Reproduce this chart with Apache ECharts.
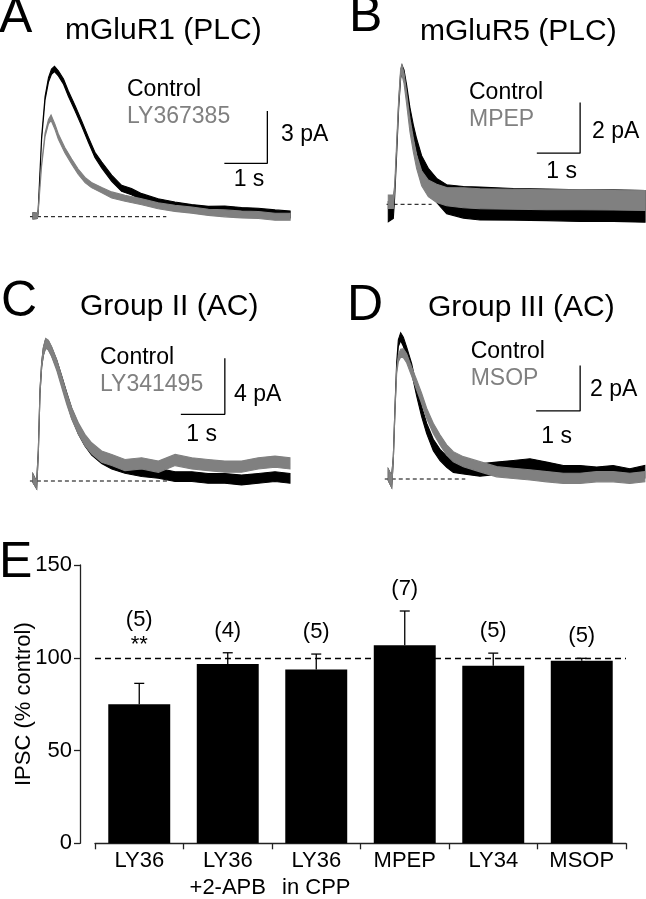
<!DOCTYPE html>
<html><head><meta charset="utf-8">
<script src="https://cdn.jsdelivr.net/npm/echarts@6/dist/echarts.min.js"></script>
<style>html,body{margin:0;padding:0;background:#fff}#c{width:646px;height:899px}</style>
</head><body><div id="c"></div>
<script>
// ---------- Panel A: mGluR1 (PLC) ----------
const aT_ctl = [0, 0.10, 0.12, 0.20, 0.28, 0.36, 0.43, 0.50, 0.59, 0.71, 0.82, 0.98, 1.13, 1.29, 1.44, 1.60, 1.83, 2.06, 2.29, 2.53, 2.91, 3.30, 3.69, 4.08, 4.46, 4.85, 5.24, 5.63, 5.98];
const aI_ctl = [0.05, 0.05, 0.3, 4.5, 6.8, 7.86, 8.33, 8.49, 8.24, 7.76, 7.09, 6.23, 5.37, 4.41, 3.55, 2.97, 2.21, 1.63, 1.44, 1.15, 0.86, 0.67, 0.52, 0.42, 0.44, 0.33, 0.29, 0.19, 0.13];
const aN_ctl = [0.35, 0.3, 0.15, 0.15, 0.2, 0.25, 0.3, 0.3, 0.3, 0.3, 0.3, 0.3, 0.3, 0.3, 0.3, 0.35, 0.35, 0.35, 0.35, 0.35, 0.35, 0.35, 0.35, 0.35, 0.35, 0.4, 0.4, 0.4, 0.4];
const aT_ly = [0, 0.10, 0.12, 0.20, 0.28, 0.36, 0.42, 0.51, 0.59, 0.74, 0.90, 1.05, 1.21, 1.36, 1.60, 1.83, 2.14, 2.53, 2.91, 3.30, 3.69, 4.08, 4.46, 4.85, 5.24, 5.63, 5.98];
const aI_ly = [0.05, 0.05, 0.3, 2.97, 4.7, 5.46, 5.69, 5.17, 4.6, 3.83, 3.16, 2.59, 2.11, 1.82, 1.53, 1.25, 1.06, 0.86, 0.63, 0.48, 0.38, 0.25, 0.19, 0.13, 0.10, 0.0, 0.0];
const aN_ly = [0.35, 0.3, 0.15, 0.15, 0.2, 0.25, 0.3, 0.3, 0.3, 0.3, 0.3, 0.3, 0.3, 0.3, 0.3, 0.35, 0.35, 0.35, 0.35, 0.35, 0.35, 0.35, 0.4, 0.4, 0.4, 0.4, 0.4];
const aScale = [1, 3]; // 1 s, 3 pA

// ---------- Panel B: mGluR5 (PLC) ----------
const bT = [0, 0.116, 0.147, 0.193, 0.24, 0.286, 0.316, 0.363, 0.424, 0.50, 0.578, 0.655, 0.77, 0.924, 1.117, 1.348, 1.733, 2.118, 2.887, 3.66, 4.43, 5.20, 5.93];
const bI_ctl = [-0.29, -0.23, 0.37, 2.08, 3.92, 5.11, 5.37, 5.18, 4.58, 3.66, 2.94, 2.34, 1.62, 1.05, 0.55, 0.2, 0.08, 0.03, 0.0, -0.02, -0.05, -0.05, -0.08];
const bN_ctl = [0.79, 0.66, 0.2, 0.2, 0.2, 0.26, 0.26, 0.26, 0.26, 0.33, 0.4, 0.5, 0.6, 0.75, 0.95, 1.15, 1.25, 1.3, 1.25, 1.25, 1.25, 1.25, 1.25];
const bI_mpep = [0.10, 0.10, 0.63, 2.34, 4.06, 5.24, 5.31, 4.98, 4.19, 3.13, 2.34, 1.68, 1.03, 0.63, 0.43, 0.30, 0.26, 0.22, 0.20, 0.18, 0.18, 0.17, 0.15];
const bN_mpep = [0.53, 0.53, 0.2, 0.2, 0.2, 0.26, 0.4, 0.4, 0.46, 0.53, 0.53, 0.53, 0.59, 0.66, 0.72, 0.72, 0.79, 0.79, 0.79, 0.79, 0.79, 0.79, 0.79];
const bScale = [1, 2];

// ---------- Panel C: Group II (AC) ----------
const cT = [0, 0.083, 0.121, 0.159, 0.197, 0.235, 0.288, 0.348, 0.424, 0.538, 0.652, 0.765, 0.879, 1.03, 1.18, 1.333, 1.56, 1.79, 2.09, 2.47, 2.85, 3.23, 3.61, 3.98, 4.36, 4.74, 5.12, 5.5, 5.84];
const cI_ctl = [0.19, -0.3, 2.09, 6.38, 8.29, 9.24, 9.83, 9.71, 9.24, 8.35, 7.2, 6.0, 4.85, 3.7, 2.85, 2.2, 1.6, 1.2, 0.9, 0.67, 0.55, 0.31, 0.31, 0.19, 0.19, 0.07, 0.19, 0.31, 0.19];
const cN_ctl = [0.6, 0.5, 0.25, 0.25, 0.3, 0.5, 0.6, 0.6, 0.6, 0.6, 0.6, 0.65, 0.7, 0.7, 0.7, 0.7, 0.7, 0.7, 0.7, 0.7, 0.7, 0.7, 0.7, 0.7, 0.7, 0.7, 0.7, 0.7, 0.7];
const cI_ly = [0.19, -0.3, 2.09, 6.38, 8.29, 9.24, 9.83, 9.71, 9.24, 8.29, 7.09, 5.9, 4.83, 3.76, 2.93, 2.33, 1.74, 1.5, 1.14, 1.26, 1.02, 1.5, 1.26, 1.14, 1.02, 1.02, 1.26, 1.38, 1.26];
const cN_ly = [0.6, 0.5, 0.25, 0.25, 0.3, 0.6, 0.7, 0.7, 0.7, 0.75, 0.8, 0.8, 0.8, 0.8, 0.8, 0.8, 0.8, 0.8, 0.8, 0.8, 0.8, 0.8, 0.8, 0.8, 0.8, 0.8, 0.8, 0.8, 0.8];
const cScale = [1, 4];

// ---------- Panel D: Group III (AC) ----------
const dT = [0, 0.077, 0.114, 0.152, 0.19, 0.228, 0.281, 0.342, 0.417, 0.531, 0.645, 0.758, 0.872, 1.023, 1.175, 1.327, 1.478, 1.705, 2.084, 2.463, 2.84, 3.22, 3.6, 3.98, 4.357, 4.736, 5.11, 5.49, 5.83];
const dI_ctl = [0.18, -0.12, 0.91, 3.11, 5.02, 5.98, 6.27, 6.05, 5.61, 4.88, 3.85, 2.97, 2.23, 1.5, 1.06, 0.76, 0.54, 0.47, 0.4, 0.47, 0.54, 0.62, 0.47, 0.32, 0.32, 0.25, 0.32, 0.18, 0.32];
const dN_ctl = [0.5, 0.5, 0.15, 0.15, 0.2, 0.3, 0.35, 0.4, 0.4, 0.4, 0.4, 0.45, 0.45, 0.5, 0.5, 0.5, 0.5, 0.5, 0.55, 0.55, 0.55, 0.55, 0.55, 0.55, 0.55, 0.55, 0.55, 0.55, 0.55];
const dI_msop = [0.18, -0.12, 0.91, 3.11, 4.73, 5.32, 5.54, 5.54, 5.32, 4.73, 4.14, 3.55, 2.89, 2.23, 1.72, 1.28, 0.98, 0.76, 0.54, 0.32, 0.25, 0.18, 0.1, 0.03, 0.03, 0.1, 0.1, 0.03, 0.1];
const dN_msop = [0.5, 0.5, 0.15, 0.15, 0.2, 0.3, 0.35, 0.4, 0.4, 0.4, 0.45, 0.45, 0.45, 0.45, 0.45, 0.45, 0.45, 0.45, 0.45, 0.45, 0.45, 0.45, 0.45, 0.45, 0.45, 0.45, 0.45, 0.45, 0.45];
const dScale = [1, 2];

// ---------- Panel E: summary ----------
const eCategories = ['LY36', 'LY36\n+2-APB', 'LY36\nin CPP', 'MPEP', 'LY34', 'MSOP'];
const eMeans = [75, 96.6, 93.7, 106.8, 95.7, 98.4];
const eSem = [11.2, 6.1, 8.3, 18.4, 6.8, 1.3];
const eN = [5, 4, 5, 7, 5, 5];
const eSig = ['**', '', '', '', '', ''];
const eTicks = [0, 50, 100, 150];
const eRef = 100;

// ---------- layout & styles ----------
const FONT = "'Liberation Sans', Arial, Helvetica, sans-serif";
const GREY = '#808080';
const panels = [
  {x0: 33,    sx: 43,   base: 216.7, sy: 17.4, yMax: 10, dash: [-0.07, 3.1], bar: [5.45, 3.07], scale: aScale},
  {x0: 388.3, sx: 43.3, base: 204.3, sy: 25.3, yMax: 6,  dash: [-0.04, 1.0], bar: [4.43, 2.02], scale: bScale},
  {x0: 33,    sx: 44,   base: 481,   sy: 14,   yMax: 11, dash: [-0.07, 3.1], bar: [4.36, 4.76], scale: cScale},
  {x0: 388.3, sx: 44,   base: 479,   sy: 22.7, yMax: 7,  dash: [-0.08, 1.75], bar: [4.36, 3.0], scale: dScale}
];

const grids = [], xAxes = [], yAxes = [], series = [];
panels.forEach(function (p, gi) {
  grids.push({left: p.x0 - 0.5 * p.sx, width: 7 * p.sx, top: p.base - p.yMax * p.sy, height: (p.yMax + 2) * p.sy, outerBoundsMode: 'none'});
  xAxes.push({type: 'value', gridIndex: gi, min: -0.5, max: 6.5, show: false});
  yAxes.push({type: 'value', gridIndex: gi, min: -2, max: p.yMax, show: false});
  series.push({type: 'line', xAxisIndex: gi, yAxisIndex: gi, data: [[p.dash[0], 0], [p.dash[1], 0]], symbol: 'none', silent: true, z: 1,
    lineStyle: {color: '#000', width: 1, type: [4, 3]}});
  const bx = p.bar[0], by = p.bar[1];
  series.push({type: 'line', xAxisIndex: gi, yAxisIndex: gi, data: [[bx - p.scale[0], by], [bx, by], [bx, by + p.scale[1]]], symbol: 'none', silent: true, z: 5,
    lineStyle: {color: '#000', width: 1.3}});
});

function band(gi, t, mid, noise, color, z) {
  return {
    type: 'custom', xAxisIndex: gi, yAxisIndex: gi, silent: true, z: z, clip: false,
    data: [[t[0], mid[0]]],
    renderItem: function (params, api) {
      const up = [], lo = [];
      for (let k = 0; k < t.length; k++) {
        up.push(api.coord([t[k], mid[k] + noise[k] / 2]));
        lo.push(api.coord([t[k], mid[k] - noise[k] / 2]));
      }
      return {type: 'polygon', shape: {points: up.concat(lo.reverse())}, style: {fill: color, stroke: color, lineWidth: 1.1}};
    }
  };
}
series.push(band(0, aT_ctl, aI_ctl, aN_ctl, '#000', 2));
series.push(band(0, aT_ly, aI_ly, aN_ly, GREY, 3));
series.push(band(1, bT, bI_ctl, bN_ctl, '#000', 2));
series.push(band(1, bT, bI_mpep, bN_mpep, GREY, 3));
series.push(band(2, cT, cI_ctl, cN_ctl, '#000', 2));
series.push(band(2, cT, cI_ly, cN_ly, GREY, 3));
series.push(band(3, dT, dI_ctl, dN_ctl, '#000', 2));
series.push(band(3, dT, dI_msop, dN_msop, GREY, 3));

// Panel E grid
grids.push({left: 95, right: 20, top: 565, bottom: 55.7, outerBoundsMode: 'none'});
xAxes.push({type: 'category', gridIndex: 4, data: eCategories,
  axisLine: {lineStyle: {color: '#222', width: 1.3}},
  axisTick: {show: true, length: 6, lineStyle: {color: '#222', width: 1.3}},
  axisLabel: {interval: 0, color: '#000', fontSize: 22, fontFamily: FONT, lineHeight: 27, margin: 4}});
yAxes.push({type: 'value', gridIndex: 4, min: eTicks[0], max: eTicks[eTicks.length - 1], interval: eTicks[1] - eTicks[0], offset: 15,
  name: 'IPSC (% control)', nameLocation: 'middle', nameGap: 45, nameRotate: 90, nameMoveOverlap: false,
  nameTextStyle: {color: '#000', fontSize: 22, fontFamily: FONT},
  axisLine: {show: true, lineStyle: {color: '#222', width: 1.3}},
  axisTick: {show: true, length: 6, lineStyle: {color: '#222', width: 1.3}},
  axisLabel: {color: '#000', fontSize: 22, fontFamily: FONT, margin: 8},
  splitLine: {show: false}});
series.push({type: 'bar', xAxisIndex: 4, yAxisIndex: 4, data: eMeans, barWidth: '70%', silent: true,
  itemStyle: {color: '#000'},
  markLine: {silent: true, symbol: 'none', label: {show: false},
    lineStyle: {color: '#000', width: 1.3, type: [6, 4]}, data: [{yAxis: eRef}]}});
series.push({type: 'custom', xAxisIndex: 4, yAxisIndex: 4, silent: true, z: 5,
  data: eMeans.map(function (m, i) { return [i, m, eSem[i], eN[i]]; }),
  renderItem: function (params, api) {
    const i = params.dataIndex;
    const p0 = api.coord([api.value(0), api.value(1)]);
    const p1 = api.coord([api.value(0), api.value(1) + api.value(2)]);
    const kids = [
      {type: 'line', shape: {x1: p0[0], y1: p0[1], x2: p1[0], y2: p1[1]}, style: {stroke: '#000', lineWidth: 1.3}},
      {type: 'line', shape: {x1: p1[0] - 5, y1: p1[1], x2: p1[0] + 5, y2: p1[1]}, style: {stroke: '#000', lineWidth: 1.3}}
    ];
    const sig = eSig[i];
    const nY = sig ? p1[1] - 63 : p1[1] - 22;
    kids.push({type: 'text', x: p1[0], y: nY, style: {text: '(' + eN[i] + ')', font: '22px ' + FONT, fill: '#000',
      textAlign: 'center', textVerticalAlign: 'middle', align: 'center', verticalAlign: 'middle'}});
    if (sig) {
      kids.push({type: 'text', x: p1[0], y: p1[1] - 38, style: {text: sig, font: '22px ' + FONT, fill: '#000',
        textAlign: 'center', textVerticalAlign: 'middle', align: 'center', verticalAlign: 'middle'}});
    }
    return {type: 'group', children: kids};
  }});

// Text labels
function txt(s, x, y, size, color, align) {
  return {type: 'text', x: x, y: y, silent: true, z: 10,
    style: {text: s, font: size + 'px ' + FONT, fill: color || '#000',
      textAlign: align || 'left', textVerticalAlign: 'middle', align: align || 'left', verticalAlign: 'middle'}};
}
const graphics = [
  txt('A', -1, 18, 50), txt('B', 349, 17, 50), txt('C', 1, 302, 50), txt('D', 347, 306, 50), txt('E', -1, 563, 50),
  txt('mGluR1 (PLC)', 65, 31, 30), txt('mGluR5 (PLC)', 420, 31.7, 30),
  txt('Group II (AC)', 80, 306.7, 30), txt('Group III (AC)', 428, 308, 30),
  txt('Control', 127, 90, 23), txt('LY367385', 127, 117, 23, GREY),
  txt('Control', 469, 93, 23), txt('MPEP', 469, 120, 23, GREY),
  txt('Control', 100, 358, 23), txt('LY341495', 100, 385, 23, GREY),
  txt('Control', 470.7, 351.7, 23), txt('MSOP', 470.7, 378.3, 23, GREY),
  txt(aScale[1] + ' pA', 281, 135, 23), txt(aScale[0] + ' s', 249, 180, 23, '#000', 'center'),
  txt(bScale[1] + ' pA', 592, 131.7, 23), txt(bScale[0] + ' s', 561.7, 171.7, 23, '#000', 'center'),
  txt(cScale[1] + ' pA', 234, 395, 23), txt(cScale[0] + ' s', 201.7, 435, 23, '#000', 'center'),
  txt(dScale[1] + ' pA', 590, 390, 23), txt(dScale[0] + ' s', 556.7, 436.7, 23, '#000', 'center')
];

const chart = echarts.init(document.getElementById('c'), null, {renderer: 'canvas'});
chart.setOption({
  animation: false,
  backgroundColor: '#fff',
  grid: grids, xAxis: xAxes, yAxis: yAxes, series: series, graphic: graphics
});
</script></body></html>
